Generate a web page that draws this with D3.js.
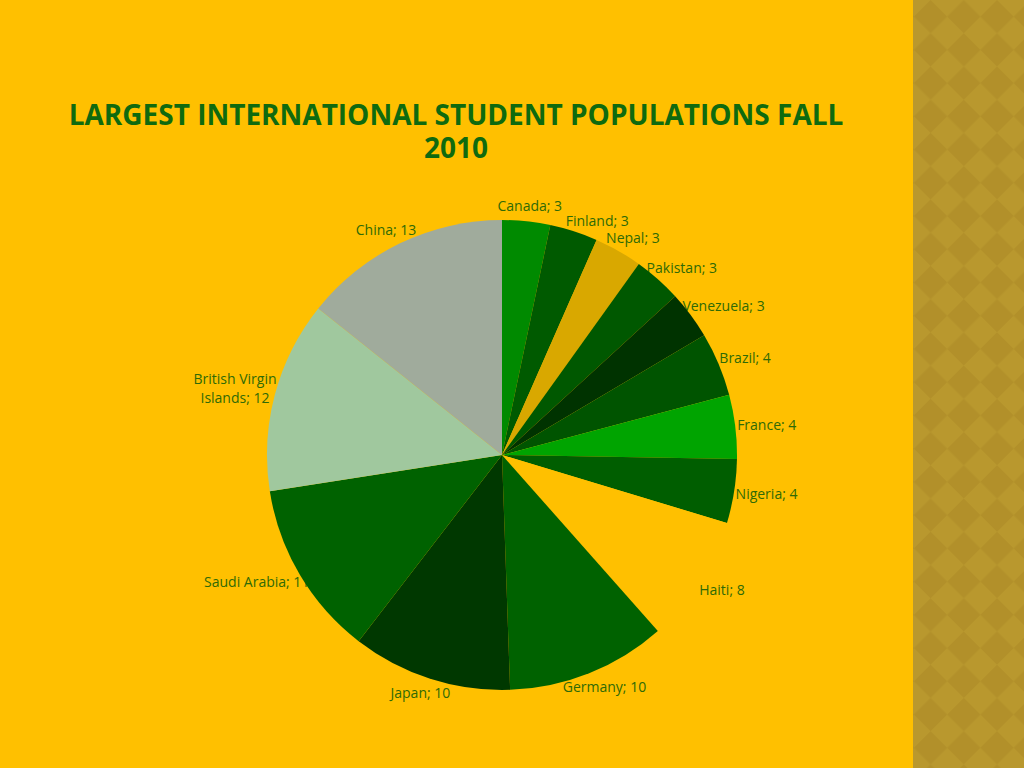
<!DOCTYPE html>
<html>
<head>
  <title>Largest International Student Populations Fall 2010</title>
  <meta charset="utf-8" />
  <style>
    html, body { margin: 0; padding: 0; background: #ffc000; }
    svg { display: block; }
  </style>
  <script src="https://cdn.jsdelivr.net/npm/d3@7"></script>
</head>
<body>
  <svg id="chart" width="1024" height="768"></svg>
  <script>
    // data
    var countries = ["Canada", "Finland", "Nepal", "Pakistan", "Venezuela", "Brazil", "France",
                     "Nigeria", "Haiti", "Germany", "Japan", "Saudi Arabia", "British Virgin Islands", "China"];
    var students = [3, 3, 3, 3, 3, 4, 4, 4, 8, 10, 10, 11, 12, 13];
    var sliceColors = ["#008a00", "#005a00", "#d9a800", "#005800", "#003300", "#005400", "#00a400",
                       "#005e00", "#ffc000", "#006200", "#003800", "#006200", "#a0c89e", "#a0ab9c"];
    var titleLines = ["LARGEST INTERNATIONAL STUDENT POPULATIONS FALL", "2010"];

    var W = 1024, H = 768;
    var cx = 502, cy = 455, R = 235;
    var labelColor = "#2f6a06";

    var svg = d3.select("#chart");

    // background + decorative strip on the right
    svg.append("rect").attr("width", W).attr("height", H).attr("fill", "#ffc000");

    var defs = svg.append("defs");
    var pat = defs.append("pattern")
      .attr("id", "diamonds")
      .attr("patternUnits", "userSpaceOnUse")
      .attr("width", 47).attr("height", 47)
      .attr("patternTransform", "rotate(45)");
    pat.append("rect").attr("width", 47).attr("height", 47).attr("fill", "#b9982e");
    pat.append("rect").attr("width", 23.5).attr("height", 23.5).attr("fill", "#b2902a");
    pat.append("rect").attr("x", 23.5).attr("y", 23.5).attr("width", 23.5).attr("height", 23.5).attr("fill", "#b2902a");

    svg.append("rect").attr("x", 913).attr("y", 0).attr("width", W - 913).attr("height", H)
      .attr("fill", "url(#diamonds)");

    // title
    svg.append("text")
      .attr("x", 456).attr("y", 125)
      .attr("text-anchor", "middle")
      .attr("font-family", "'Open Sans', sans-serif")
      .attr("font-weight", "bold")
      .attr("font-size", 28)
      .attr("fill", "#0f6a0f")
      .selectAll("tspan").data(titleLines).join("tspan")
        .attr("x", 456)
        .attr("dy", function (d, i) { return i === 0 ? 0 : 33; })
        .text(function (d) { return d; });

    var rows = countries.map(function (c, i) { return { name: c, value: students[i], color: sliceColors[i] }; });

    var pie = d3.pie().sort(null).value(function (d) { return d.value; });
    var arcs = pie(rows);
    var arc = d3.arc().innerRadius(0).outerRadius(R);

    var g = svg.append("g").attr("transform", "translate(" + cx + "," + cy + ")");

    // labels go under the slices (the slide has slices covering parts of them)
    var labelLayer = g.append("g")
      .attr("font-family", "'Open Sans', sans-serif")
      .attr("font-size", 14)
      .attr("fill", labelColor);
    var lineLayer = g.append("g");

    function splitLabel(str, maxW, ctx) {
      ctx.textContent = str;
      if (ctx.getComputedTextLength() <= maxW) return [str];
      var words = str.split(" "), best = null, bestDiff = Infinity;
      for (var k = 1; k < words.length; k++) {
        var a = words.slice(0, k).join(" "), b = words.slice(k).join(" ");
        var diff = Math.abs(a.length - b.length);
        if (diff < bestDiff) { bestDiff = diff; best = [a, b]; }
      }
      return best;
    }

    var measure = labelLayer.append("text").attr("opacity", 0);
    var lineH = 19;

    var labels = arcs.map(function (d) {
      var txt = d.data.name + "; " + d.data.value;
      var lines = splitLabel(txt, 140, measure.node());
      var w = 0;
      lines.forEach(function (l) {
        measure.text(l);
        w = Math.max(w, measure.node().getComputedTextLength());
      });
      var mid = (d.startAngle + d.endAngle) / 2;
      return { arc: d, lines: lines, w: w, h: lines.length * lineH - 5, mid: mid, ang: mid };
    });
    measure.remove();

    function place(lb) {
      var s = Math.sin(lb.ang), c = -Math.cos(lb.ang);
      lb.x = (R + 8) * s + s * lb.w / 2.5;
      lb.y = (R + 8) * c + c * lb.h / 2;
    }
    function overlap(a, b) {
      return Math.abs(a.x - b.x) < (a.w + b.w) / 2 + 2 && Math.abs(a.y - b.y) < (a.h + b.h) / 2 + 1;
    }

    labels.forEach(function (lb, i) {
      place(lb);
      if (i > 0) {
        var guard = 0;
        while (overlap(lb, labels[i - 1]) && guard < 200) {
          lb.ang += Math.PI / 360;
          place(lb);
          guard++;
        }
      }
    });

    labels.forEach(function (lb) {
      var t = labelLayer.append("text")
        .attr("text-anchor", "middle")
        .attr("transform", "translate(" + lb.x + "," + (lb.y - lb.h / 2) + ")");
      t.selectAll("tspan").data(lb.lines).join("tspan")
        .attr("x", 0)
        .attr("y", function (d, i) { return 12 + i * lineH; })
        .text(function (d) { return d; });

      // leader line when the label had to be moved away from its slice
      if (lb.ang - lb.mid > Math.PI / 45) {
        var p0 = [R * Math.sin(lb.mid), -R * Math.cos(lb.mid)];
        var p1 = [lb.x - lb.w / 2, lb.y + lb.h / 2];
        lineLayer.append("line")
          .attr("x1", p0[0]).attr("y1", p0[1])
          .attr("x2", p1[0]).attr("y2", p1[1])
          .attr("stroke", labelColor).attr("stroke-width", 0.8);
      }
    });

    g.append("g").selectAll("path").data(arcs).join("path")
      .attr("d", arc)
      .attr("fill", function (d) { return d.data.color; });
  </script>
</body>
</html>
